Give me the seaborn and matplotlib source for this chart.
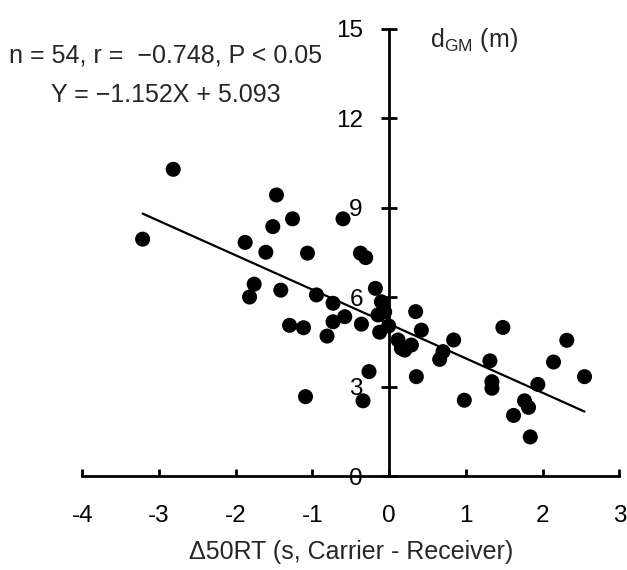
import numpy as np
import pandas as pd
import seaborn as sns
import matplotlib.pyplot as plt

# values
delta_50rt = [-2.815, -3.214, -1.469, -1.260, -1.517, -1.878, -1.608, -1.065,
              -1.760, -1.820, -1.413, -0.948, -1.299, -1.117, -1.091, -0.602,
              -0.375, -0.306, -0.732, -0.180, -0.102, -0.579, -0.732, -0.362,
              -0.146, -0.007, -0.124, -0.810, 0.345, 0.419, 0.115, 0.840,
              0.159, 0.289, 0.701, 0.658, -0.263, 0.354, -0.341, 1.482,
              2.315, 1.313, 2.142, 2.546, 1.339, 1.339, 1.938, 0.979,
              1.764, 1.816, 1.621, 1.839, -0.059, 0.202]
d_gm = [10.28, 7.94, 9.42, 8.62, 8.36, 7.83, 7.50, 7.47,
        6.43, 6.00, 6.23, 6.07, 5.05, 4.97, 2.66, 8.62,
        7.47, 7.32, 5.79, 6.29, 5.84, 5.34, 5.17, 5.09,
        5.40, 5.03, 4.82, 4.69, 5.51, 4.89, 4.56, 4.56,
        4.28, 4.39, 4.17, 3.91, 3.50, 3.33, 2.52, 4.98,
        4.55, 3.86, 3.82, 3.33, 3.16, 2.94, 3.07, 2.54,
        2.52, 2.30, 2.03, 1.31, 5.50, 4.22]
slope = -1.152
intercept = 5.093

x_ticks = [-4, -3, -2, -1, 0, 1, 2, 3]
y_ticks = [0, 3, 6, 9, 12, 15]
stats_text = "n = 54, r =  \u22120.748, P < 0.05"
eq_text = "Y = \u22121.152X + 5.093"
x_label = "\u039450RT (s, Carrier - Receiver)"
y_label = "d$_\\mathrm{GM}$ (m)"

sns.set_style("ticks")
plt.rcParams['font.family'] = ['Liberation Sans', 'DejaVu Sans']
plt.rcParams['mathtext.fontset'] = 'custom'
plt.rcParams['mathtext.rm'] = 'Liberation Sans'
plt.rcParams['mathtext.it'] = 'Liberation Sans:italic'
plt.rcParams['axes.unicode_minus'] = False

fig = plt.figure(figsize=(6.27, 5.70), dpi=100)
ax = fig.add_axes([0.1313, 0.1649, 0.8565, 0.7851])

df = pd.DataFrame({'x': delta_50rt, 'y': d_gm})
sns.scatterplot(data=df, x='x', y='y', ax=ax, color='black', s=117,
                edgecolor='none', linewidth=0, clip_on=False, zorder=3)

# fitted line over the data range
line_x = np.array([df['x'].min(), df['x'].max()])
sns.lineplot(x=line_x, y=slope * line_x + intercept, ax=ax,
             color='black', linewidth=1.6, zorder=2)

ax.set_xlim(-4, 3)
ax.set_ylim(0, 15)
ax.set_xticks(x_ticks)
ax.set_yticks(y_ticks)
ax.spines['left'].set_position(('data', 0))
ax.spines['top'].set_visible(False)
ax.spines['right'].set_visible(False)
for s in ['left', 'bottom']:
    ax.spines[s].set_linewidth(2.0)
    ax.spines[s].set_color('black')
ax.tick_params(axis='x', direction='in', length=5, width=2.0, pad=21,
               labelsize=17.5, colors='black')
ax.tick_params(axis='y', direction='inout', length=12, width=2.0, pad=13,
               labelsize=17.5, colors='black')
ax.set_xlabel(x_label, fontsize=18, labelpad=9)
ax.set_ylabel('')

fig.text(430 / 627, 1 - 47 / 570, y_label, fontsize=18, ha='left', va='baseline')
fig.text(166 / 627, 1 - 55 / 570, stats_text, fontsize=18, ha='center', va='center')
fig.text(166 / 627, 1 - 95 / 570, eq_text, fontsize=18, ha='center', va='center')

fig.savefig('out.png', dpi=100)
